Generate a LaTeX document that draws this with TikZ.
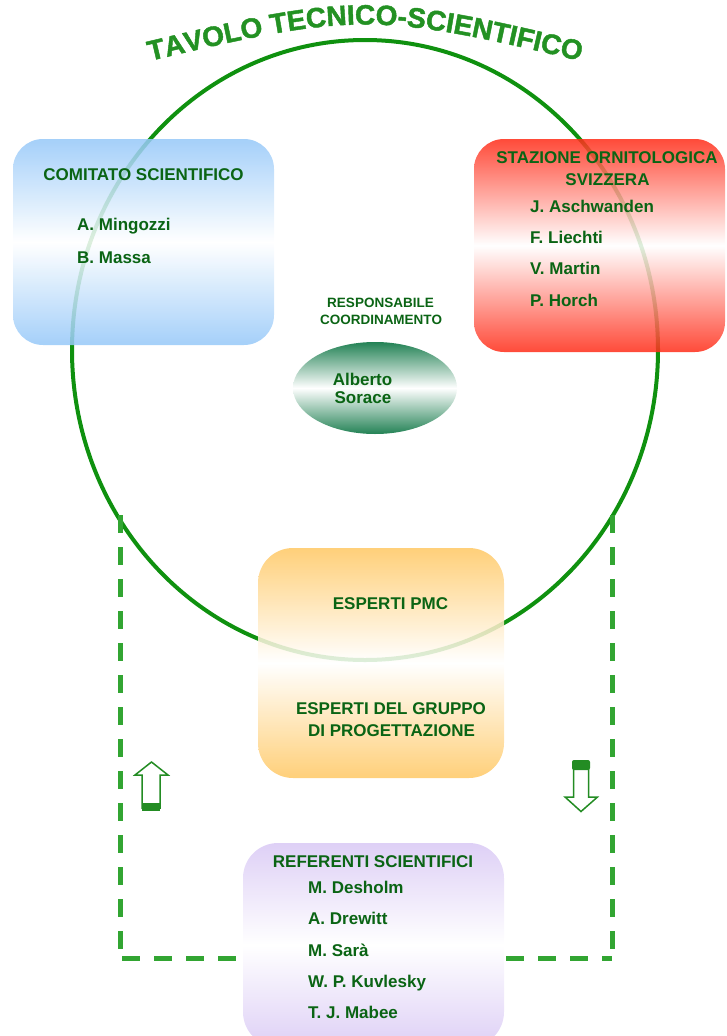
\documentclass[tikz,border=0pt]{standalone}
\usepackage{fontspec}
\setmainfont{Liberation Sans}
\newfontfamily\titlefam[BoldFeatures={FakeBold=1.6}]{Liberation Sans}
\usetikzlibrary{shapes.geometric,decorations.text}
\definecolor{txtgreen}{RGB}{10,100,20}
\definecolor{ringgreen}{RGB}{15,145,15}
\definecolor{dashgreen}{RGB}{50,165,50}
\definecolor{titlegreen}{RGB}{35,145,35}
\definecolor{boxblue}{RGB}{150,200,248}
\definecolor{boxred}{RGB}{255,45,25}
\definecolor{boxorange}{RGB}{255,200,100}
\definecolor{boxpurple}{RGB}{222,208,246}
\definecolor{ellgreen}{RGB}{35,130,85}
\definecolor{arrowgreen}{RGB}{35,140,35}
\newcommand\labfont{\fontsize{17}{20}\selectfont\bfseries}
\newcommand\smalllabfont{\fontsize{13.5}{16}\selectfont\bfseries}
\newcommand\titlefont{\titlefam\fontsize{28}{30}\selectfont\bfseries}
\begin{document}
\begin{tikzpicture}[x=1pt,y=-1pt,
  panel/.style={rectangle, rounded corners=30pt, inner sep=0pt, fill opacity=0.86},
  lab/.style={anchor=base, inner sep=0pt, text=txtgreen, font=\labfont},
  smalllab/.style={anchor=base, inner sep=0pt, text=txtgreen, font=\smalllabfont},
  person/.style={anchor=base west, inner sep=0pt, text=txtgreen, font=\labfont},
  dashline/.style={draw=dashgreen, line width=5pt, dash pattern=on 18pt off 14pt},
  hollowarrow/.style={draw=arrowgreen, line width=1.5pt, fill=white, line join=miter},
  arrowbase/.style={fill=arrowgreen}]
\useasboundingbox (0,0) rectangle (726,1036);
\clip (0,0) rectangle (726,1036);

% big ring
\node[ellipse, draw=ringgreen, line width=4pt, minimum width=586pt, minimum height=620pt, inner sep=0pt] (ring) at (365,350) {};

% dashed frame
\coordinate (dl) at (120,515);
\coordinate (dbl) at (120,958);
\coordinate (dbr) at (612,958);
\coordinate (dr) at (612,515);
\draw[dashline] (dl) -- (dbl);
\draw[dashline] (dr) -- (dbr);
\draw[dashline] (dbl) ++(2,0) -- (dbr);

% panels
\node[panel, minimum width=261pt, minimum height=206pt, top color=boxblue, bottom color=boxblue, middle color=white] (comitato) at (143.5,242) {};
\node[panel, minimum width=251pt, minimum height=213pt, top color=boxred, bottom color=boxred, middle color=white] (stazione) at (599.5,245.5) {};
\node[panel, rounded corners=35pt, minimum width=246pt, minimum height=230pt, top color=boxorange, bottom color=boxorange, middle color=white] (esperti) at (381,663) {};
\node[rectangle, rounded corners=35pt, inner sep=0pt, minimum width=261pt, minimum height=204pt, top color=boxpurple, bottom color=boxpurple, middle color=white] (referenti) at (373.5,945) {};
\node[ellipse, inner sep=0pt, minimum width=164pt, minimum height=92pt, top color=ellgreen, bottom color=ellgreen, middle color=white] (coord) at (375,388) {};

% texts: comitato
\node[lab] (t1) at (143.5,180) {COMITATO SCIENTIFICO};
\node[person] (p1) at (77,230) {A. Mingozzi};
\node[person] (p2) at (77,263) {B. Massa};

% stazione
\node[lab] (t2) at (607,163) {STAZIONE ORNITOLOGICA};
\node[lab] (t2b) at (607.5,185) {SVIZZERA};
\node[person] (p3) at (530,212) {J. Aschwanden};
\node[person] (p4) at (530,243) {F. Liechti};
\node[person] (p5) at (530,274) {V. Martin};
\node[person] (p6) at (530,306) {P. Horch};

% coordinamento
\node[smalllab] (t3) at (380.5,307) {RESPONSABILE};
\node[smalllab] (t3b) at (381,324) {COORDINAMENTO};
\node[lab] (c1) at (362.5,385) {Alberto};
\node[lab] (c2) at (363,403) {Sorace};

% esperti
\node[lab] (t4) at (390.5,609) {ESPERTI PMC};
\node[lab] (t5) at (391,714) {ESPERTI DEL GRUPPO};
\node[lab] (t5b) at (391.5,736) {DI PROGETTAZIONE};

% referenti
\node[lab] (t6) at (373,867) {REFERENTI SCIENTIFICI};
\node[person] (r1) at (308,893) {M. Desholm};
\node[person] (r2) at (308,924) {A. Drewitt};
\node[person] (r3) at (308,956) {M. Sarà};
\node[person] (r4) at (308,987) {W. P. Kuvlesky};
\node[person] (r5) at (308,1018) {T. J. Mabee};

% arrows
\draw[hollowarrow] (142,808) -- (142,775) -- (135,775) -- (151.5,762) -- (168,775) -- (160,775) -- (160,808) -- cycle;
\fill[arrowbase] (142,803) rectangle (160,811);
\draw[hollowarrow] (573.5,769) -- (573.5,797) -- (565,797) -- (581,811.5) -- (597.5,797) -- (588.5,797) -- (588.5,769);
\fill[arrowbase, rounded corners=2pt] (572,760) rectangle (590,770);

% title
{\titlefont
\path[decorate, decoration={text along path, text align=center, text color=titlegreen,
  text={TAVOLO TECNICO-SCIENTIFICO}}] (108,71) .. controls (365,9) .. (622,71);
}
\end{tikzpicture}
\end{document}
